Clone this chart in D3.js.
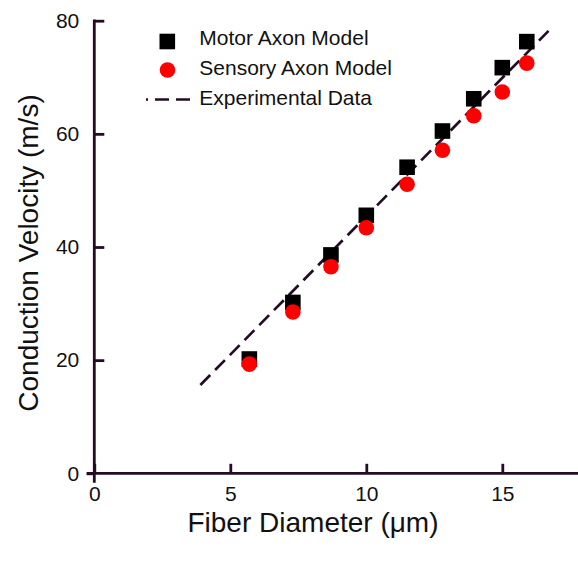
<!DOCTYPE html>
<html>
<head>
<meta charset="utf-8">
<script src="https://cdn.jsdelivr.net/npm/d3@7/dist/d3.min.js"></script>
<style>
  html, body { margin: 0; padding: 0; background: #fff; }
  svg { display: block; font-family: "Liberation Sans", Arial, Helvetica, sans-serif; }
</style>
</head>
<body>
<svg id="chart" width="578" height="564"></svg>
<script>
// ---- data ----
const fiberDiameter = [5.7, 7.3, 8.7, 10.0, 11.5, 12.8, 13.95, 15.0, 15.9];
const motorVelocity = [20.2, 30.2, 38.6, 45.6, 54.1, 60.5, 66.2, 71.7, 76.3];
const sensoryVelocity = [19.3, 28.5, 36.5, 43.4, 51.1, 57.1, 63.2, 67.4, 72.5];
const experimentalX = [3.9, 16.7];
const experimentalY = [15.6, 78.2];
const xTicks = [0, 5, 10, 15];
const yTicks = [0, 20, 40, 60, 80];
const legendLabels = ["Motor Axon Model", "Sensory Axon Model", "Experimental Data"];
const xTitle = "Fiber Diameter (\u03BCm)";
const yTitle = "Conduction Velocity (m/s)";

// ---- layout ----
const axisColor = "#230c24";
const svg = d3.select("#chart");
const x = d3.scaleLinear().domain([0, 15]).range([94.3, 502.3]);
const y = d3.scaleLinear().domain([0, 80]).range([473.3, 20.7]);

// axes lines (extend a bit past origin like the reference)
svg.append("line")
  .attr("x1", x(0) - 7.6).attr("x2", 578)
  .attr("y1", y(0)).attr("y2", y(0))
  .attr("stroke", axisColor).attr("stroke-width", 2.8);
svg.append("line")
  .attr("x1", x(0)).attr("x2", x(0))
  .attr("y1", y(80) - 1.2).attr("y2", y(0) + 9.4)
  .attr("stroke", axisColor).attr("stroke-width", 2.8);

const xAxis = d3.axisBottom(x).tickValues(xTicks).tickSizeInner(-9.5).tickSizeOuter(0).tickPadding(13)
  .tickFormat(d3.format("d"));
const gx = svg.append("g").attr("transform", `translate(0,${y(0)})`).call(xAxis);
gx.select(".domain").remove();
gx.selectAll(".tick line").attr("stroke", axisColor).attr("stroke-width", 2.8);
gx.selectAll(".tick text").attr("font-size", 21).attr("fill", "#111").attr("font-family", "Liberation Sans, Arial, sans-serif");

const yAxis = d3.axisLeft(y).tickValues(yTicks).tickSizeInner(-10).tickSizeOuter(0).tickPadding(15)
  .tickFormat(d3.format("d"));
const gy = svg.append("g").attr("transform", `translate(${x(0)},0)`).call(yAxis);
gy.select(".domain").remove();
gy.selectAll(".tick line").attr("stroke", axisColor).attr("stroke-width", 2.8);
gy.selectAll(".tick text").attr("font-size", 21).attr("fill", "#111").attr("font-family", "Liberation Sans, Arial, sans-serif");
// small outward tick at 0
gy.selectAll(".tick").filter(d => d === 0).select("line").attr("x2", -7.6);

// axis titles
svg.append("text")
  .attr("x", 313).attr("y", 532)
  .attr("text-anchor", "middle")
  .attr("font-size", 28).attr("fill", "#111")
  .text(xTitle);
svg.append("text")
  .attr("transform", `translate(38,253) rotate(-90)`)
  .attr("text-anchor", "middle")
  .attr("font-size", 28).attr("fill", "#111")
  .text(yTitle);

// experimental dashed line
const expData = experimentalX.map((d, i) => [d, experimentalY[i]]);
svg.append("path")
  .datum(expData)
  .attr("d", d3.line().x(d => x(d[0])).y(d => y(d[1])))
  .attr("fill", "none")
  .attr("stroke", axisColor)
  .attr("stroke-width", 2.7)
  .attr("stroke-dasharray", "14,7");

// motor squares
const sq = 15.6;
svg.append("g").selectAll("rect")
  .data(fiberDiameter.map((d, i) => [d, motorVelocity[i]]))
  .join("rect")
  .attr("x", d => x(d[0]) - sq / 2)
  .attr("y", d => y(d[1]) - sq / 2)
  .attr("width", sq).attr("height", sq)
  .attr("fill", "#000");

// sensory circles
svg.append("g").selectAll("circle")
  .data(fiberDiameter.map((d, i) => [d, sensoryVelocity[i]]))
  .join("circle")
  .attr("cx", d => x(d[0]))
  .attr("cy", d => y(d[1]))
  .attr("r", 7.8)
  .attr("fill", "#ff0000");

// legend
const leg = svg.append("g");
leg.append("rect").attr("x", 167.3 - sq / 2).attr("y", 41.5 - sq / 2).attr("width", sq).attr("height", sq).attr("fill", "#000");
leg.append("circle").attr("cx", 167.5).attr("cy", 70).attr("r", 7.8).attr("fill", "#ff0000");
leg.append("line").attr("x1", 146).attr("x2", 190).attr("y1", 99.5).attr("y2", 99.5)
  .attr("stroke", axisColor).attr("stroke-width", 2.7)
  .attr("stroke-dasharray", "14,7").attr("stroke-dashoffset", 12);
const legY = [45, 74.5, 104.5];
leg.selectAll("text").data(legendLabels).join("text")
  .attr("x", 199.3).attr("y", (d, i) => legY[i])
  .attr("font-size", 21).attr("fill", "#111")
  .text(d => d);
</script>
</body>
</html>
